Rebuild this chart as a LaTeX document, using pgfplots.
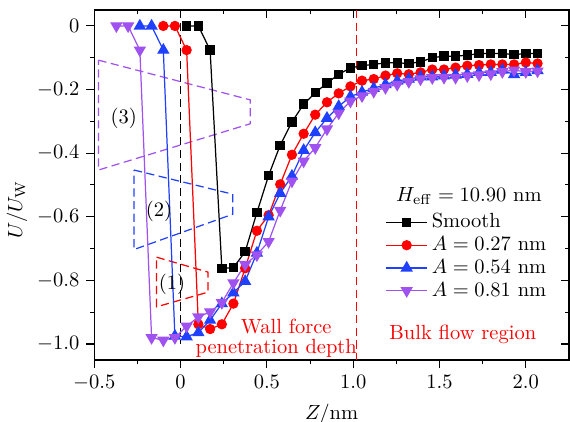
\documentclass[border=0pt]{standalone}
\usepackage{pgfplots}
\pgfplotsset{compat=1.18}
\definecolor{cblue}{RGB}{31,64,255}
\definecolor{cpurple}{RGB}{160,82,240}
\definecolor{cred}{RGB}{255,0,0}

\begin{document}
\begin{tikzpicture}
\pgfplotsset{
  frame/.style={
    scale only axis, width=231.6pt, height=170.7pt,
    xmin=-0.5, xmax=2.25, ymin=-1.05, ymax=0.05,
    xtick={-0.5,0,0.5,1,1.5,2}, ytick={-1,-0.8,-0.6,-0.4,-0.2,0},
    minor x tick num=1, minor y tick num=1,
    major tick length=3.8pt, minor tick length=2pt,
    tick style={line width=0.5pt, black},
  },
  wall/.style={dash pattern=on 4pt off 2.2pt, line width=0.6pt, mark=none, forget plot},
}
\begin{axis}[frame,
    tick align=outside, xtick pos=bottom, ytick pos=left,
    axis line style={line width=0.6pt},
    xticklabels={$-0.5$,$0$,$0.5$,$1.0$,$1.5$,$2.0$},
    yticklabels={$-1.0$,$-0.8$,$-0.6$,$-0.4$,$-0.2$,$0$},
    xlabel={$Z/\mathrm{nm}$},
    ylabel={$U/U_{\mathrm{W}}$},
    ylabel style={at={(axis description cs:-0.163,0.43)}, anchor=center},
    legend style={draw=none, fill=none, at={(0.6,0.443)}, anchor=north west, row sep=-1.25pt},
    legend cell align=left,
    legend image code/.code={\draw[mark repeat=2, mark phase=2] plot coordinates {(0cm,0cm) (0.35cm,0cm) (0.7cm,0cm)};},
]
% guide lines
\addplot[wall, black] coordinates {(0,0.05) (0,-1.0)};
\addplot[wall, cred] coordinates {(1.02,0.05) (1.02,-1.05)};
% (3)
\addplot[wall, cpurple] coordinates {(-0.476,-0.1075) (0.404,-0.2325) (0.404,-0.3075) (-0.476,-0.453) (-0.476,-0.1075)};
% (2)
\addplot[wall, cblue] coordinates {(-0.27,-0.453) (0.302,-0.529) (0.302,-0.592) (-0.27,-0.703) (-0.27,-0.453)};
% (1)
\addplot[wall, cred] coordinates {(-0.139,-0.727) (0.159,-0.774) (0.159,-0.837) (-0.139,-0.883) (-0.139,-0.727)};

\addplot[black, line width=0.6pt, mark=square*, mark size=2pt] coordinates {
(0.035,0) (0.103,0) (0.171,-0.076) (0.239,-0.762) (0.306,-0.760) (0.374,-0.710)
(0.442,-0.587) (0.510,-0.470) (0.577,-0.375) (0.645,-0.302) (0.713,-0.246)
(0.780,-0.210) (0.848,-0.180) (0.916,-0.152) (0.984,-0.132) (1.051,-0.125)
(1.119,-0.121) (1.187,-0.116) (1.255,-0.116) (1.322,-0.118) (1.390,-0.113)
(1.458,-0.100) (1.526,-0.095) (1.593,-0.095) (1.661,-0.092) (1.729,-0.087)
(1.797,-0.087) (1.864,-0.087) (1.932,-0.090) (2.000,-0.087) (2.068,-0.087)
};
\addlegendentry{Smooth}

\addplot[cred, line width=0.6pt, mark=*, mark size=2.2pt] coordinates {
(-0.100,0) (-0.033,0) (0.035,-0.076) (0.103,-0.938) (0.171,-0.953) (0.239,-0.938)
(0.306,-0.873) (0.374,-0.762) (0.442,-0.644) (0.510,-0.595) (0.577,-0.498)
(0.645,-0.405) (0.713,-0.339) (0.780,-0.279) (0.848,-0.240) (0.916,-0.212)
(0.984,-0.190) (1.051,-0.172) (1.119,-0.167) (1.187,-0.156) (1.255,-0.149)
(1.322,-0.152) (1.390,-0.146) (1.458,-0.137) (1.526,-0.137) (1.593,-0.131)
(1.661,-0.125) (1.729,-0.123) (1.797,-0.121) (1.864,-0.121) (1.932,-0.121)
(2.000,-0.115) (2.068,-0.118)
};
\addlegendentry{$A=0.27$ nm}

\addplot[cblue, line width=0.6pt, mark=triangle*, mark size=2.9pt] coordinates {
(-0.236,0) (-0.168,0) (-0.100,-0.076) (-0.033,-0.975) (0.035,-0.977) (0.103,-0.964)
(0.171,-0.925) (0.239,-0.873) (0.306,-0.839) (0.374,-0.803) (0.442,-0.714)
(0.510,-0.600) (0.577,-0.526) (0.645,-0.472) (0.713,-0.391) (0.780,-0.335)
(0.848,-0.290) (0.916,-0.253) (0.984,-0.222) (1.051,-0.208) (1.119,-0.196)
(1.187,-0.184) (1.255,-0.173) (1.322,-0.167) (1.390,-0.160) (1.458,-0.160)
(1.526,-0.157) (1.593,-0.154) (1.661,-0.152) (1.729,-0.146) (1.797,-0.146)
(1.864,-0.139) (1.932,-0.153) (2.000,-0.146) (2.068,-0.140)
};
\addlegendentry{$A=0.54$ nm}

\addplot[cpurple, line width=0.6pt, mark=triangle*, mark size=2.9pt, mark options={rotate=180}] coordinates {
(-0.372,0) (-0.304,0) (-0.236,-0.076) (-0.168,-0.980) (-0.100,-0.988) (-0.033,-0.980)
(0.035,-0.944) (0.103,-0.915) (0.171,-0.899) (0.239,-0.870) (0.306,-0.808)
(0.374,-0.750) (0.442,-0.720) (0.510,-0.678) (0.577,-0.580) (0.645,-0.488)
(0.713,-0.425) (0.780,-0.383) (0.848,-0.324) (0.916,-0.274) (0.984,-0.237)
(1.051,-0.220) (1.119,-0.206) (1.187,-0.194) (1.255,-0.184) (1.322,-0.175)
(1.390,-0.167) (1.458,-0.163) (1.526,-0.162) (1.593,-0.162) (1.661,-0.157)
(1.729,-0.154) (1.797,-0.151) (1.864,-0.144) (1.932,-0.139) (2.000,-0.144)
(2.068,-0.142)
};
\addlegendentry{$A=0.81$ nm}

\node at (axis cs:1.670,-0.535) {$H_{\mathrm{eff}}=10.90$ nm};
\node at (axis cs:-0.33,-0.29) {(3)};
\node at (axis cs:-0.125,-0.583) {(2)};
\node at (axis cs:-0.05,-0.814) {(1)};
\node[cred] at (axis cs:0.612,-0.946) {Wall force};
\node[cred] at (axis cs:0.554,-1.013) {penetration depth};
\node[cred] at (axis cs:1.635,-0.969) {Bulk flow region};
\end{axis}
\begin{axis}[frame,
    tick align=inside, xtick pos=top, ytick pos=right,
    xticklabels={}, yticklabels={},
    axis line style={draw=none},
]
\end{axis}
\pgfresetboundingbox
\path ([xshift=-46pt,yshift=-30.2pt]current axis.south west) rectangle ([xshift=0.5pt,yshift=4.9pt]current axis.north east);
\end{tikzpicture}
\end{document}
